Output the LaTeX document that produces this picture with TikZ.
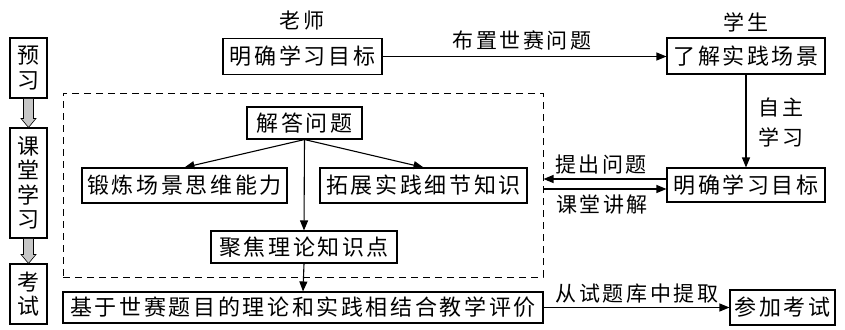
\documentclass[tikz,border=0pt]{standalone}
\usepackage{fontspec}
\usetikzlibrary{arrows.meta,calc}
\newfontfamily\cjk[LetterSpace=12]{Noto Sans CJK SC}
\newfontfamily\cjkv{Noto Sans CJK SC}
\begin{document}
\begin{tikzpicture}[x=1pt,y=-1pt,
  box/.style={draw,line width=1.1pt,inner sep=0pt,font=\cjk\fontsize{22}{25}\selectfont},
  vbox/.style={draw,line width=1.1pt,inner sep=0pt,minimum width=37pt,align=center,font=\cjkv\fontsize{22}{24.5}\selectfont},
  lbl/.style={inner sep=0pt,font=\cjk\fontsize{21}{30}\selectfont,align=center},
  arr/.style={line width=1.1pt,-{Triangle[length=10pt,width=8pt]}},
  dashbox/.style={draw,line width=1pt,dash pattern=on 7pt off 5pt,inner sep=0pt},
  blockarr/.style={draw,line width=0.6pt,fill=black!22}
]
\useasboundingbox (0,0) rectangle (845,329);
% left column
\node[vbox,minimum height=60pt] (yx) at (28.5,68) {预\\习};
\node[vbox,minimum height=110pt] (kt) at (28.5,183) {课\\堂\\学\\习};
\node[vbox,minimum height=60pt] (kst) at (28.5,294) {考\\试};
\foreach \a/\b in {yx/kt,kt/kst}{
  \path[blockarr] ([xshift=-5pt]\a.south) -- ([xshift=-5pt,yshift=9pt]\b.north)
    -- ([xshift=-7.5pt,yshift=9pt]\b.north) -- (\b.north)
    -- ([xshift=7.5pt,yshift=9pt]\b.north) -- ([xshift=5pt,yshift=9pt]\b.north)
    -- ([xshift=5pt]\a.south) -- cycle;
}
% top row
\node[lbl] (ls) at (302,21) {老师};
\node[box,minimum width=159pt,minimum height=36pt] (t1) at (302.5,56.5) {明确学习目标};
\node[lbl] (xs) at (746,22) {学生};
\node[box,minimum width=158pt,minimum height=36pt] (s1) at (746,56) {了解实践场景};
\node[lbl] (bz) at (522,40) {布置世赛问题};
\draw[arr] (t1.east) -- (t1.east -| s1.west);
\node[box,minimum width=158pt,minimum height=34pt] (s2) at (746,185) {明确学习目标};
\draw[arr] (s1.south) -- (s2.north);
\node[lbl] (zz) at (781,122) {自主\\学习};
% dashed region
\node[dashbox,minimum width=480pt,minimum height=184pt] (db) at (303,185) {};
\draw[arr] ([yshift=6pt]s2.west) -- ([yshift=6pt]db.east);
\draw[arr] ([yshift=-4pt]db.east) -- ([yshift=-4pt]s2.west);
\node[lbl] (tc) at (601,165) {提出问题};
\node[lbl] (kj) at (602,205) {课堂讲解};
\node[box,minimum width=115pt,minimum height=32pt] (jd) at (304.5,123) {解答问题};
\node[box,minimum width=205pt,minimum height=35pt] (dl) at (184.5,185.5) {锻炼场景思维能力};
\node[box,minimum width=207pt,minimum height=35pt] (tz) at (423.5,185.5) {拓展实践细节知识};
\node[box,minimum width=186pt,minimum height=32pt] (jj) at (304,247) {聚焦理论知识点};
\draw[arr] (jd.south) -- (dl.north);
\draw[arr] (jd.south) -- (tz.north);
\draw[arr] (jd.south) -- (jj.north);
% bottom row
\node[box,minimum width=480pt,minimum height=31pt] (ev) at (303,307.5) {基于世赛题目的理论和实践相结合教学评价};
\draw[arr] (jj.south) -- (ev.north);
\node[box,minimum width=105pt,minimum height=35pt] (ck) at (782.5,307.5) {参加考试};
\draw[arr] (ev.east) -- (ck.west);
\node[lbl] (cq) at (637,294) {从试题库中提取};
\end{tikzpicture}
\end{document}
